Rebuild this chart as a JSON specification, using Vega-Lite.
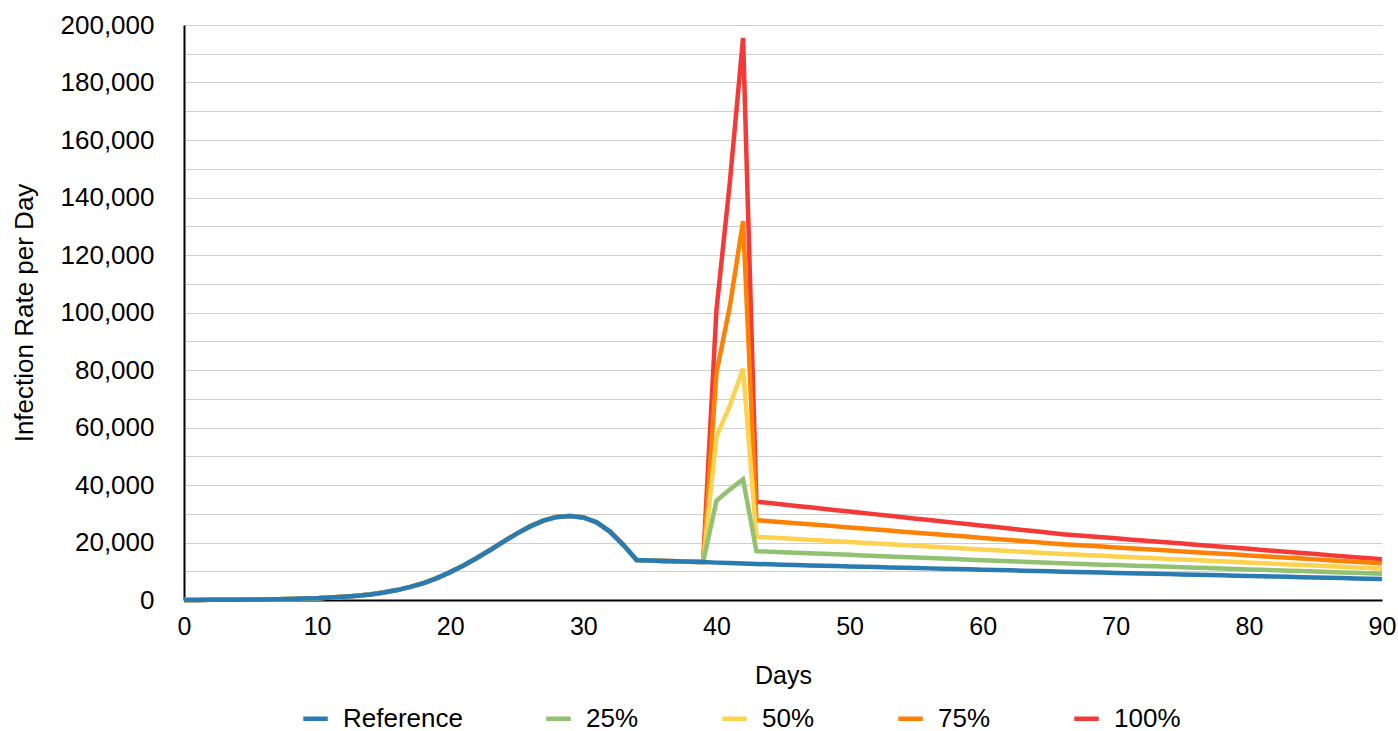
{
"$schema": "https://vega.github.io/schema/vega-lite/v6.json",
"width": 1198, "height": 575,
"autosize": {"type": "none"},
"padding": {"left": 184, "top": 25, "right": 16, "bottom": 131},
"config": {"font": "Liberation Sans", "view": {"stroke": null}},
"data": {"values": [
{"day":0,"Reference":30,"25%":30,"50%":30,"75%":30,"100%":30},
{"day":1,"Reference":40,"25%":40,"50%":40,"75%":40,"100%":40},
{"day":2,"Reference":55,"25%":55,"50%":55,"75%":55,"100%":55},
{"day":3,"Reference":75,"25%":75,"50%":75,"75%":75,"100%":75},
{"day":4,"Reference":100,"25%":100,"50%":100,"75%":100,"100%":100},
{"day":5,"Reference":140,"25%":140,"50%":140,"75%":140,"100%":140},
{"day":6,"Reference":190,"25%":190,"50%":190,"75%":190,"100%":190},
{"day":7,"Reference":260,"25%":260,"50%":260,"75%":260,"100%":260},
{"day":8,"Reference":360,"25%":360,"50%":360,"75%":360,"100%":360},
{"day":9,"Reference":480,"25%":480,"50%":480,"75%":480,"100%":480},
{"day":10,"Reference":640,"25%":640,"50%":640,"75%":640,"100%":640},
{"day":11,"Reference":850,"25%":850,"50%":850,"75%":850,"100%":850},
{"day":12,"Reference":1120,"25%":1120,"50%":1120,"75%":1120,"100%":1120},
{"day":13,"Reference":1480,"25%":1480,"50%":1480,"75%":1480,"100%":1480},
{"day":14,"Reference":1950,"25%":1950,"50%":1950,"75%":1950,"100%":1950},
{"day":15,"Reference":2600,"25%":2600,"50%":2600,"75%":2600,"100%":2600},
{"day":16,"Reference":3450,"25%":3450,"50%":3450,"75%":3450,"100%":3450},
{"day":17,"Reference":4550,"25%":4550,"50%":4550,"75%":4550,"100%":4550},
{"day":18,"Reference":5900,"25%":5900,"50%":5900,"75%":5900,"100%":5900},
{"day":19,"Reference":7600,"25%":7600,"50%":7600,"75%":7600,"100%":7600},
{"day":20,"Reference":9700,"25%":9700,"50%":9700,"75%":9700,"100%":9700},
{"day":21,"Reference":12000,"25%":12000,"50%":12000,"75%":12000,"100%":12000},
{"day":22,"Reference":14600,"25%":14600,"50%":14600,"75%":14600,"100%":14600},
{"day":23,"Reference":17400,"25%":17400,"50%":17400,"75%":17400,"100%":17400},
{"day":24,"Reference":20300,"25%":20300,"50%":20300,"75%":20300,"100%":20300},
{"day":25,"Reference":23100,"25%":23100,"50%":23100,"75%":23100,"100%":23100},
{"day":26,"Reference":25600,"25%":25600,"50%":25600,"75%":25600,"100%":25600},
{"day":27,"Reference":27600,"25%":27600,"50%":27600,"75%":27600,"100%":27600},
{"day":28,"Reference":28900,"25%":28900,"50%":28900,"75%":28900,"100%":28900},
{"day":29,"Reference":29200,"25%":29200,"50%":29200,"75%":29200,"100%":29200},
{"day":30,"Reference":28700,"25%":28700,"50%":28700,"75%":28700,"100%":28700},
{"day":31,"Reference":27000,"25%":27000,"50%":27000,"75%":27000,"100%":27000},
{"day":32,"Reference":23800,"25%":23800,"50%":23800,"75%":23800,"100%":23800},
{"day":33,"Reference":19200,"25%":19200,"50%":19200,"75%":19200,"100%":19200},
{"day":34,"Reference":13900,"25%":13900,"50%":13900,"75%":13900,"100%":13900},
{"day":35,"Reference":13750,"25%":13750,"50%":13750,"75%":13750,"100%":13750},
{"day":36,"Reference":13600,"25%":13600,"50%":13600,"75%":13600,"100%":13600},
{"day":37,"Reference":13450,"25%":13450,"50%":13450,"75%":13450,"100%":13450},
{"day":38,"Reference":13300,"25%":13300,"50%":13300,"75%":13300,"100%":13300},
{"day":39,"Reference":13200,"25%":13200,"50%":13200,"75%":13200,"100%":13200},
{"day":40,"Reference":13000,"25%":34500,"50%":56800,"75%":79000,"100%":100900},
{"day":41,"Reference":12850,"25%":38400,"50%":67500,"75%":102000,"100%":145000},
{"day":42,"Reference":12700,"25%":42000,"50%":80500,"75%":131800,"100%":195500},
{"day":43,"Reference":12550,"25%":17000,"50%":22000,"75%":27800,"100%":34200},
{"day":44,"Reference":12400,"25%":16820,"50%":21740,"75%":27430,"100%":33710},
{"day":45,"Reference":12250,"25%":16630,"50%":21480,"75%":27070,"100%":33220},
{"day":46,"Reference":12135,"25%":16450,"50%":21220,"75%":26700,"100%":32730},
{"day":47,"Reference":12020,"25%":16260,"50%":20960,"75%":26340,"100%":32230},
{"day":48,"Reference":11905,"25%":16080,"50%":20700,"75%":25970,"100%":31740},
{"day":49,"Reference":11790,"25%":15890,"50%":20430,"75%":25610,"100%":31250},
{"day":50,"Reference":11680,"25%":15710,"50%":20170,"75%":25240,"100%":30760},
{"day":51,"Reference":11565,"25%":15520,"50%":19910,"75%":24880,"100%":30270},
{"day":52,"Reference":11450,"25%":15340,"50%":19650,"75%":24510,"100%":29780},
{"day":53,"Reference":11340,"25%":15150,"50%":19390,"75%":24150,"100%":29290},
{"day":54,"Reference":11225,"25%":14970,"50%":19130,"75%":23780,"100%":28800},
{"day":55,"Reference":11110,"25%":14780,"50%":18870,"75%":23420,"100%":28300},
{"day":56,"Reference":11000,"25%":14600,"50%":18610,"75%":23050,"100%":27810},
{"day":57,"Reference":10885,"25%":14410,"50%":18350,"75%":22690,"100%":27320},
{"day":58,"Reference":10770,"25%":14230,"50%":18090,"75%":22320,"100%":26830},
{"day":59,"Reference":10660,"25%":14040,"50%":17830,"75%":21960,"100%":26340},
{"day":60,"Reference":10545,"25%":13860,"50%":17570,"75%":21590,"100%":25850},
{"day":61,"Reference":10430,"25%":13670,"50%":17300,"75%":21230,"100%":25360},
{"day":62,"Reference":10320,"25%":13490,"50%":17040,"75%":20860,"100%":24870},
{"day":63,"Reference":10200,"25%":13310,"50%":16780,"75%":20500,"100%":24370},
{"day":64,"Reference":10090,"25%":13120,"50%":16520,"75%":20130,"100%":23880},
{"day":65,"Reference":9970,"25%":12940,"50%":16260,"75%":19770,"100%":23390},
{"day":66,"Reference":9850,"25%":12750,"50%":16000,"75%":19400,"100%":22900},
{"day":67,"Reference":9745,"25%":12600,"50%":15790,"75%":19120,"100%":22540},
{"day":68,"Reference":9640,"25%":12450,"50%":15580,"75%":18850,"100%":22170},
{"day":69,"Reference":9530,"25%":12300,"50%":15360,"75%":18570,"100%":21810},
{"day":70,"Reference":9425,"25%":12150,"50%":15150,"75%":18290,"100%":21440},
{"day":71,"Reference":9320,"25%":12000,"50%":14940,"75%":18010,"100%":21080},
{"day":72,"Reference":9215,"25%":11850,"50%":14730,"75%":17740,"100%":20710},
{"day":73,"Reference":9110,"25%":11700,"50%":14510,"75%":17460,"100%":20350},
{"day":74,"Reference":9000,"25%":11550,"50%":14300,"75%":17180,"100%":19980},
{"day":75,"Reference":8895,"25%":11400,"50%":14090,"75%":16910,"100%":19620},
{"day":76,"Reference":8790,"25%":11250,"50%":13880,"75%":16630,"100%":19250},
{"day":77,"Reference":8685,"25%":11100,"50%":13660,"75%":16350,"100%":18890},
{"day":78,"Reference":8575,"25%":10950,"50%":13450,"75%":16070,"100%":18530},
{"day":79,"Reference":8470,"25%":10800,"50%":13240,"75%":15800,"100%":18160},
{"day":80,"Reference":8365,"25%":10650,"50%":13030,"75%":15520,"100%":17800},
{"day":81,"Reference":8260,"25%":10500,"50%":12810,"75%":15240,"100%":17430},
{"day":82,"Reference":8150,"25%":10350,"50%":12600,"75%":14970,"100%":17070},
{"day":83,"Reference":8045,"25%":10200,"50%":12390,"75%":14690,"100%":16700},
{"day":84,"Reference":7940,"25%":10050,"50%":12180,"75%":14410,"100%":16340},
{"day":85,"Reference":7835,"25%":9900,"50%":11960,"75%":14130,"100%":15970},
{"day":86,"Reference":7725,"25%":9750,"50%":11750,"75%":13860,"100%":15610},
{"day":87,"Reference":7620,"25%":9600,"50%":11540,"75%":13580,"100%":15240},
{"day":88,"Reference":7515,"25%":9450,"50%":11330,"75%":13300,"100%":14880},
{"day":89,"Reference":7410,"25%":9300,"50%":11110,"75%":13030,"100%":14510},
{"day":90,"Reference":7300,"25%":9150,"50%":10900,"75%":12750,"100%":14150}
]},
"transform": [{"fold": ["100%", "75%", "50%", "25%", "Reference"], "as": ["series", "value"]}],
"mark": {"type": "line", "strokeWidth": 4.5},
"encoding": {
  "x": {"field": "day", "type": "quantitative",
    "scale": {"domain": [0, 90], "nice": false},
    "axis": {"values": [0,10,20,30,40,50,60,70,80,90], "title": "Days", "grid": false, "ticks": false,
      "domainColor": "#000000", "domainWidth": 2, "labelFontSize": 25, "labelColor": "#000000",
      "labelPadding": 14, "labelFlush": false, "titleFontSize": 25, "titleFontWeight": "normal",
      "titleColor": "#000000", "titlePadding": 24}},
  "y": {"field": "value", "type": "quantitative",
    "scale": {"domain": [0, 200000], "nice": false},
    "axis": {"values": [0,10000,20000,30000,40000,50000,60000,70000,80000,90000,100000,110000,120000,130000,140000,150000,160000,170000,180000,190000,200000],
      "labelExpr": "datum.value % 20000 === 0 ? format(datum.value, ',') : ''",
      "grid": true, "gridColor": "#cfcfcf", "gridWidth": 1, "ticks": false,
      "domainColor": "#000000", "domainWidth": 2, "labelFontSize": 26, "labelColor": "#000000",
      "labelPadding": 30, "labelOverlap": false, "labelFlush": false,
      "title": "Infection Rate per Day", "titleFontSize": 26, "titleFontWeight": "normal",
      "titleColor": "#000000", "titlePadding": 23}},
  "color": {"field": "series", "type": "nominal",
    "scale": {"domain": ["Reference", "25%", "50%", "75%", "100%"],
      "range": ["#2a7bb2", "#93c172", "#fdd24f", "#fe8104", "#f43936"]},
    "legend": {"orient": "none", "legendX": 117, "legendY": 679, "direction": "horizontal", "title": null,
      "symbolType": "stroke", "symbolSize": 600, "symbolStrokeWidth": 4.5, "labelFontSize": 26,
      "labelColor": "#000000", "columnPadding": 74, "labelOffset": 13, "padding": 0}}
}
}
